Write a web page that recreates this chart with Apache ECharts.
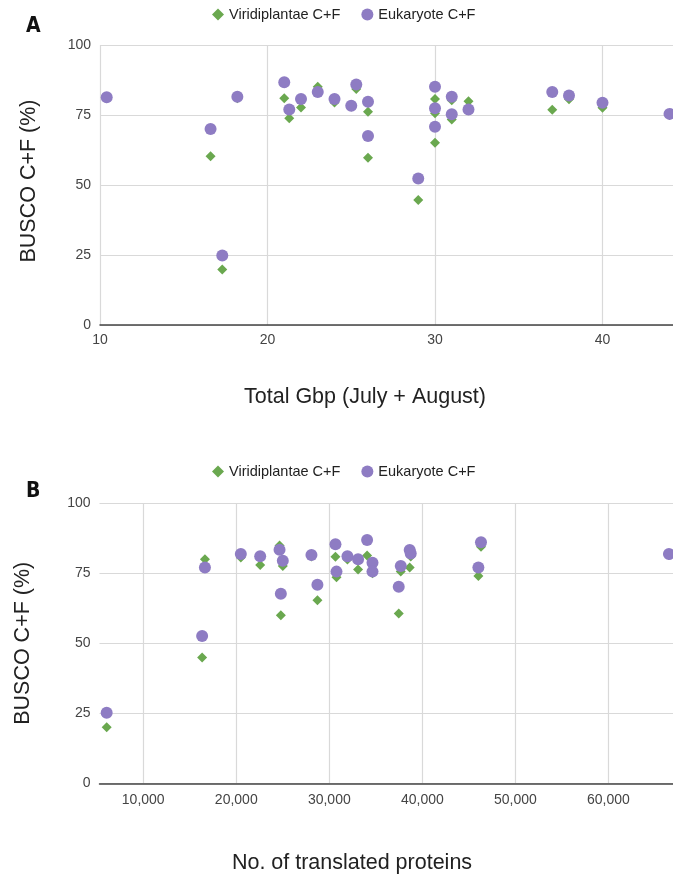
<!DOCTYPE html>
<html>
<head>
<meta charset="utf-8">
<script src="https://cdn.jsdelivr.net/npm/echarts@6/dist/echarts.min.js"></script>
<style>
  html, body { margin: 0; padding: 0; background: #fff; }
  #myChart { width: 673px; height: 877px; }
</style>
</head>
<body>
<div id="myChart"></div>
<script>
// panel A: total Gbp vs BUSCO C+F
const gbpA  = [10.4, 16.6, 17.3, 18.2, 21.0, 21.3, 22.0, 23.0, 24.0, 25.0, 25.3, 26.0, 26.0, 29.0, 30.0, 30.0, 30.0, 31.0, 31.0, 32.0, 37.0, 38.0, 40.0, 44.0]
const viriA = [81.0, 60.3, 19.8, 81.0, 81.0, 73.8, 77.7, 85.1, 79.5, 78.0, 84.3, 76.2, 59.7, 44.6, 80.7, 75.6, 65.1, 80.3, 73.4, 79.9, 76.9, 80.6, 77.6, 75.0]
const eukA  = [81.3, 70.0, 24.8, 81.5, 86.7, 77.0, 80.7, 83.2, 80.7, 78.3, 85.9, 79.7, 67.5, 52.3, 85.1, 77.4, 70.8, 81.5, 75.3, 77.0, 83.2, 82.0, 79.4, 75.4]

// panel B: translated proteins vs BUSCO C+F
const protB = [6070, 16330, 16630, 20490, 22570, 24650, 24790, 25000, 28080, 28720, 30660, 30770, 31950, 33090, 34060, 34640, 34640, 37460, 37680, 38640, 38750, 46020, 46300, 66500]
const viriB = [20.0, 44.9, 80.0, 80.6, 78.0, 84.9, 60.0, 77.6, 81.0, 65.4, 80.9, 73.6, 79.9, 76.4, 81.4, 78.0, 75.0, 60.6, 75.6, 77.1, 81.0, 74.0, 84.5, 81.5]
const eukB  = [25.2, 52.6, 77.1, 81.9, 81.1, 83.4, 67.7, 79.5, 81.5, 70.9, 85.4, 75.6, 81.1, 80.0, 86.9, 78.8, 75.6, 70.2, 77.6, 83.3, 82.1, 77.1, 86.1, 81.9]

const names = ['Viridiplantae C+F', 'Eukaryote C+F']
const GREEN = '#6aa84f'
const PURPLE = '#8e7cc3'

function pairs(xs, ys) {
    return xs.map((x, i) => [x, ys[i]])
}

let myChart = echarts.init(document.getElementById('myChart'))

const gridLine = { show: true, lineStyle: { color: '#d9d9d9', width: 1.2 } }
const labelStyle = { fontSize: 14, color: '#444' }
const legendBase = {
    left: 212, padding: 0, itemWidth: 12, itemHeight: 12, itemGap: 21,
    textStyle: { fontSize: 14.5, color: '#222' },
    data: [{ name: names[0], icon: 'diamond' }, { name: names[1], icon: 'circle' }]
}
const yBase = {
    type: 'value', min: 0, max: 100, interval: 25,
    name: 'BUSCO C+F (%)', nameLocation: 'middle',
    axisLine: { show: false }, axisTick: { show: false },
    axisLabel: Object.assign({ margin: 9 }, labelStyle),
    splitLine: gridLine
}

var option = {
    textStyle: { fontFamily: 'Liberation Sans, Arial, sans-serif' },
    animation: false,
    legend: [
        Object.assign({ top: 7 }, legendBase),
        Object.assign({ top: 464 }, legendBase)
    ],
    // plot areas run past the right edge, like the cropped original
    grid: [
        { left: 100, top: 45, width: 670, height: 280, outerBoundsMode: 'none', containLabel: false },
        { left: 99.5, top: 503.3, width: 602, height: 280, outerBoundsMode: 'none', containLabel: false }
    ],
    xAxis: [
        {
            type: 'value', gridIndex: 0, min: 10, max: 50, interval: 10,
            axisLine: { show: true, lineStyle: { color: '#444', width: 1.5 } },
            axisTick: { show: false },
            axisLabel: Object.assign({ margin: 8 }, labelStyle),
            splitLine: gridLine
        },
        {
            type: 'value', gridIndex: 1, min: 5300, max: 70000,
            minInterval: 10000, maxInterval: 10000,
            axisLine: { show: true, lineStyle: { color: '#444', width: 1.5 } },
            axisTick: { show: false },
            axisLabel: Object.assign({ margin: 10, showMinLabel: false }, labelStyle),
            splitLine: Object.assign({ showMinLine: false }, gridLine)
        }
    ],
    yAxis: [
        Object.assign({ gridIndex: 0, nameGap: 60, nameTextStyle: { fontSize: 21.5, color: '#222', padding: [0, 0, 0, 8] } }, yBase),
        Object.assign({ gridIndex: 1, nameGap: 65, nameTextStyle: { fontSize: 21.5, color: '#222' } }, yBase)
    ],
    graphic: [
        { type: 'text', left: 26, top: 16, style: { text: 'A', font: 'bold 21px "DejaVu Sans Condensed", sans-serif', fill: '#111' } },
        { type: 'text', left: 26, top: 481, style: { text: 'B', font: 'bold 21px "DejaVu Sans Condensed", sans-serif', fill: '#111' } },
        { type: 'text', x: 365, y: 397, style: { text: 'Total Gbp (July + August)', font: '21.5px "Liberation Sans", Arial, sans-serif', fill: '#222', textAlign: 'center', textVerticalAlign: 'middle' } },
        { type: 'text', x: 352, y: 863, style: { text: 'No. of translated proteins', font: '21.5px "Liberation Sans", Arial, sans-serif', fill: '#222', textAlign: 'center', textVerticalAlign: 'middle' } }
    ],
    series: [
        { name: names[0], type: 'scatter', xAxisIndex: 0, yAxisIndex: 0, symbol: 'diamond', symbolSize: 10, itemStyle: { color: GREEN, opacity: 1 }, data: pairs(gbpA, viriA) },
        { name: names[1], type: 'scatter', xAxisIndex: 0, yAxisIndex: 0, symbol: 'circle', symbolSize: 12, itemStyle: { color: PURPLE, opacity: 1 }, data: pairs(gbpA, eukA) },
        { name: names[0], type: 'scatter', xAxisIndex: 1, yAxisIndex: 1, symbol: 'diamond', symbolSize: 10, itemStyle: { color: GREEN, opacity: 1 }, data: pairs(protB, viriB) },
        { name: names[1], type: 'scatter', xAxisIndex: 1, yAxisIndex: 1, symbol: 'circle', symbolSize: 12, itemStyle: { color: PURPLE, opacity: 1 }, data: pairs(protB, eukB) }
    ]
}
myChart.setOption(option)
</script>
</body>
</html>
